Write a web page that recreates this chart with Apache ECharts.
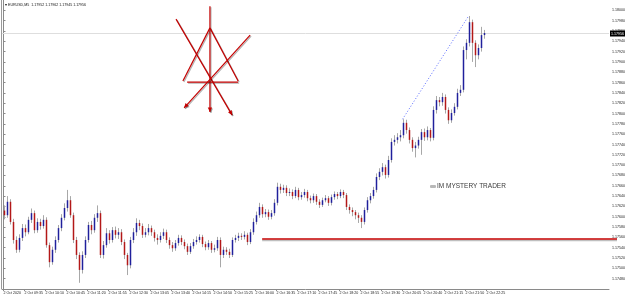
<!DOCTYPE html>
<html>
<head>
<meta charset="utf-8">
<script src="https://cdn.jsdelivr.net/npm/echarts@6/dist/echarts.min.js"></script>
<style>
  html, body { margin: 0; padding: 0; background: #fff; }
  #chart { width: 625px; height: 299px; }
</style>
</head>
<body>
<div id="chart"></div>
<script>
// EURUSD M5 candles: [open, close, low, high]
const candles = [
  [1.17612,1.17603,1.17595,1.17622],[1.17603,1.17629,1.17598,1.17640],[1.17629,1.17590,1.17585,1.17634],[1.17590,1.17555,1.17548,1.17596],
  [1.17555,1.17536,1.17530,1.17562],[1.17536,1.17559,1.17531,1.17566],[1.17559,1.17578,1.17553,1.17586],[1.17578,1.17570,1.17562,1.17585],
  [1.17570,1.17594,1.17566,1.17600],[1.17594,1.17607,1.17588,1.17616],[1.17607,1.17574,1.17568,1.17612],[1.17574,1.17590,1.17569,1.17597],
  [1.17590,1.17582,1.17575,1.17596],[1.17582,1.17594,1.17577,1.17603],[1.17594,1.17545,1.17540,1.17599],[1.17545,1.17512,1.17502,1.17550],
  [1.17512,1.17536,1.17507,1.17542],[1.17536,1.17555,1.17530,1.17562],[1.17555,1.17578,1.17550,1.17584],[1.17578,1.17598,1.17572,1.17605],
  [1.17598,1.17617,1.17593,1.17626],[1.17617,1.17632,1.17610,1.17652],[1.17632,1.17603,1.17598,1.17640],[1.17603,1.17555,1.17549,1.17608],
  [1.17555,1.17526,1.17518,1.17561],[1.17526,1.17497,1.17472,1.17531],[1.17497,1.17526,1.17490,1.17533],[1.17526,1.17555,1.17520,1.17562],
  [1.17555,1.17584,1.17550,1.17590],[1.17584,1.17574,1.17566,1.17592],[1.17574,1.17598,1.17569,1.17605],[1.17598,1.17607,1.17590,1.17622],
  [1.17607,1.17526,1.17520,1.17612],[1.17526,1.17545,1.17519,1.17553],[1.17545,1.17568,1.17540,1.17578],[1.17568,1.17555,1.17548,1.17574],
  [1.17555,1.17574,1.17550,1.17580],[1.17574,1.17565,1.17558,1.17581],[1.17565,1.17570,1.17557,1.17578],[1.17570,1.17551,1.17545,1.17576],
  [1.17551,1.17526,1.17518,1.17556],[1.17526,1.17506,1.17487,1.17530],[1.17506,1.17555,1.17500,1.17561],[1.17555,1.17570,1.17549,1.17578],
  [1.17570,1.17588,1.17563,1.17597],[1.17588,1.17582,1.17574,1.17594],[1.17582,1.17565,1.17559,1.17587],[1.17565,1.17570,1.17560,1.17578],
  [1.17570,1.17578,1.17564,1.17586],[1.17578,1.17570,1.17563,1.17583],[1.17570,1.17559,1.17552,1.17575],[1.17559,1.17555,1.17546,1.17566],
  [1.17555,1.17563,1.17550,1.17570],[1.17563,1.17570,1.17557,1.17577],[1.17570,1.17555,1.17549,1.17575],[1.17555,1.17545,1.17538,1.17560],
  [1.17545,1.17539,1.17532,1.17551],[1.17539,1.17549,1.17534,1.17555],[1.17549,1.17559,1.17544,1.17565],[1.17559,1.17551,1.17545,1.17564],
  [1.17551,1.17543,1.17537,1.17556],[1.17543,1.17532,1.17526,1.17548],[1.17532,1.17543,1.17528,1.17549],[1.17543,1.17551,1.17538,1.17557],
  [1.17551,1.17555,1.17546,1.17562],[1.17555,1.17561,1.17550,1.17566],[1.17561,1.17547,1.17541,1.17565],[1.17547,1.17541,1.17535,1.17552],
  [1.17541,1.17549,1.17536,1.17555],[1.17549,1.17536,1.17530,1.17553],[1.17536,1.17539,1.17531,1.17546],[1.17539,1.17555,1.17534,1.17561],
  [1.17555,1.17526,1.17502,1.17560],[1.17526,1.17536,1.17520,1.17542],[1.17536,1.17532,1.17526,1.17541],[1.17532,1.17526,1.17520,1.17538],
  [1.17526,1.17555,1.17522,1.17560],[1.17555,1.17559,1.17550,1.17565],[1.17559,1.17563,1.17553,1.17569],[1.17563,1.17561,1.17555,1.17568],
  [1.17561,1.17565,1.17556,1.17572],[1.17565,1.17551,1.17545,1.17569],[1.17551,1.17570,1.17547,1.17576],[1.17570,1.17590,1.17565,1.17597],
  [1.17590,1.17603,1.17585,1.17610],[1.17603,1.17619,1.17598,1.17627],[1.17619,1.17605,1.17598,1.17624],[1.17605,1.17609,1.17599,1.17615],
  [1.17609,1.17600,1.17594,1.17614],[1.17600,1.17607,1.17595,1.17613],[1.17607,1.17627,1.17602,1.17634],[1.17627,1.17658,1.17622,1.17666],
  [1.17658,1.17652,1.17645,1.17664],[1.17652,1.17656,1.17646,1.17662],[1.17656,1.17646,1.17640,1.17661],[1.17646,1.17648,1.17640,1.17655],
  [1.17648,1.17640,1.17634,1.17653],[1.17640,1.17652,1.17636,1.17658],[1.17652,1.17638,1.17632,1.17656],[1.17638,1.17642,1.17633,1.17648],
  [1.17642,1.17648,1.17637,1.17654],[1.17648,1.17636,1.17630,1.17652],[1.17636,1.17632,1.17626,1.17641],[1.17632,1.17640,1.17627,1.17645],
  [1.17640,1.17629,1.17623,1.17644],[1.17629,1.17623,1.17617,1.17634],[1.17623,1.17632,1.17619,1.17637],[1.17632,1.17636,1.17628,1.17642],
  [1.17636,1.17627,1.17621,1.17640],[1.17627,1.17638,1.17622,1.17643],[1.17638,1.17644,1.17633,1.17649],[1.17644,1.17640,1.17634,1.17648],
  [1.17640,1.17648,1.17636,1.17653],[1.17648,1.17642,1.17636,1.17652],[1.17642,1.17619,1.17613,1.17646],[1.17619,1.17613,1.17606,1.17624],
  [1.17613,1.17609,1.17601,1.17618],[1.17609,1.17603,1.17595,1.17613],[1.17603,1.17598,1.17588,1.17608],[1.17598,1.17590,1.17578,1.17603],
  [1.17590,1.17613,1.17585,1.17618],[1.17613,1.17632,1.17608,1.17638],[1.17632,1.17640,1.17626,1.17646],[1.17640,1.17652,1.17635,1.17658],
  [1.17652,1.17677,1.17647,1.17684],[1.17677,1.17687,1.17671,1.17694],[1.17687,1.17696,1.17680,1.17704],[1.17696,1.17681,1.17674,1.17701],
  [1.17681,1.17710,1.17676,1.17718],[1.17710,1.17745,1.17705,1.17752],[1.17745,1.17749,1.17738,1.17758],[1.17749,1.17754,1.17742,1.17762],
  [1.17754,1.17758,1.17746,1.17768],[1.17758,1.17782,1.17752,1.17789],[1.17782,1.17768,1.17761,1.17788],[1.17768,1.17749,1.17742,1.17773],
  [1.17749,1.17733,1.17726,1.17754],[1.17733,1.17738,1.17715,1.17745],[1.17738,1.17749,1.17732,1.17755],[1.17749,1.17764,1.17720,1.17770],
  [1.17764,1.17754,1.17747,1.17771],[1.17754,1.17768,1.17748,1.17775],[1.17768,1.17753,1.17746,1.17772],[1.17753,1.17807,1.17748,1.17814],
  [1.17807,1.17826,1.17800,1.17834],[1.17826,1.17822,1.17814,1.17832],[1.17822,1.17832,1.17815,1.17840],[1.17832,1.17807,1.17800,1.17837],
  [1.17807,1.17787,1.17780,1.17812],[1.17787,1.17801,1.17782,1.17808],[1.17801,1.17813,1.17796,1.17820],[1.17813,1.17840,1.17808,1.17848],
  [1.17840,1.17846,1.17834,1.17855],[1.17846,1.17923,1.17841,1.17930],[1.17923,1.17937,1.17905,1.17944],[1.17937,1.17977,1.17930,1.17989],
  [1.17977,1.17937,1.17900,1.17982],[1.17937,1.17913,1.17890,1.17942],[1.17913,1.17927,1.17905,1.17934],[1.17927,1.17952,1.17920,1.17968],
  [1.17952,1.17956,1.17945,1.17962]
];

// time labels, one every 7 bars (35 minutes)
const timeLabels = [
  "2 Oct 2020","2 Oct 09:35","2 Oct 10:10","2 Oct 10:45","2 Oct 11:20","2 Oct 11:55","2 Oct 12:30","2 Oct 13:05",
  "2 Oct 13:40","2 Oct 14:15","2 Oct 14:50","2 Oct 15:25","2 Oct 16:00","2 Oct 16:35","2 Oct 17:10","2 Oct 17:45",
  "2 Oct 18:20","2 Oct 18:55","2 Oct 19:30","2 Oct 20:05","2 Oct 20:40","2 Oct 21:15","2 Oct 21:50","2 Oct 22:25"
];
const labelStep = 7;

// hand-drawn objects on the chart: [barFrom, priceFrom, barTo, priceTo, arrow]
const redDrawing = [
  [68.8, 1.18008, 68.8, 1.17803, 1],
  [59.8, 1.17863, 68.8, 1.17966, 0],
  [68.8, 1.17966, 78.2, 1.17863, 0],
  [61.2, 1.17861, 78.2, 1.17861, 0],
  [57.5, 1.17983, 76.2, 1.17797, 1],
  [82.2, 1.17952, 60.2, 1.17811, 1]
];
const supportLine = [86.2, 1.17557, 201.8, 1.17557];
const trendLine = [133, 1.17789, 155, 1.17989];
const lastPrice = 1.17956;
const headerText = "EURUSD,M5  1.17952 1.17962 1.17945 1.17956";

const chart = echarts.init(document.getElementById("chart"), null, { renderer: "canvas" });

function renderCandle(params, api) {
  const i = api.value(0);
  const o = api.value(1), c = api.value(2), l = api.value(3), h = api.value(4);
  const x = Math.round(api.coord([i, o])[0]) + 0.5;
  const yo = api.coord([i, o])[1], yc = api.coord([i, c])[1];
  const yl = api.coord([i, l])[1], yh = api.coord([i, h])[1];
  const top = Math.min(yo, yc);
  const body = Math.max(Math.abs(yo - yc), 1);
  return {
    type: "group",
    children: [
      { type: "line", shape: { x1: x, y1: yh, x2: x, y2: yl }, style: { stroke: "#a8a8a8", lineWidth: 1 } },
      { type: "rect", shape: { x: x - 0.75, y: top, width: 1.5, height: body }, style: { fill: c >= o ? "#20209c" : "#b31818" } }
    ]
  };
}

function arrowHead(x1, y1, x2, y2, size) {
  const a = Math.atan2(y2 - y1, x2 - x1);
  return [
    [x2, y2],
    [x2 - size * Math.cos(a - 0.45), y2 - size * Math.sin(a - 0.45)],
    [x2 - size * Math.cos(a + 0.45), y2 - size * Math.sin(a + 0.45)]
  ];
}

function renderDrawing(params, api) {
  const p1 = api.coord([api.value(0), api.value(1)]);
  const p2 = api.coord([api.value(2), api.value(3)]);
  const shadow = { shadowColor: "rgba(0,0,0,0.3)", shadowOffsetX: 1, shadowOffsetY: 1, shadowBlur: 0 };
  const children = [
    { type: "line", shape: { x1: p1[0], y1: p1[1], x2: p2[0], y2: p2[1] }, style: { stroke: "#c40000", lineWidth: 1.2, ...shadow } }
  ];
  if (api.value(4)) {
    children.push({ type: "polygon", shape: { points: arrowHead(p1[0], p1[1], p2[0], p2[1], 5) }, style: { fill: "#c40000", ...shadow } });
  }
  return { type: "group", children };
}

// current price: light line across the plot and a black tag on the price axis
function renderPriceLine(params, api) {
  const cs = params.coordSys;
  const y = Math.round(api.coord([0, api.value(0)])[1]) + 0.5;
  const right = cs.x + cs.width;
  return {
    type: "group",
    children: [
      { type: "line", shape: { x1: cs.x, y1: y, x2: right, y2: y }, style: { stroke: "#dedede", lineWidth: 1 } },
      { type: "rect", shape: { x: right + 1, y: y - 3, width: 15, height: 6 }, style: { fill: "#000" } },
      { type: "text", x: right + 2, y: y, style: { text: api.value(0).toFixed(5), fill: "#fff", fontSize: 3.6, verticalAlign: "middle", fontFamily: "Liberation Sans" } }
    ]
  };
}

const option = {
  animation: false,
  backgroundColor: "#ffffff",
  textStyle: { fontFamily: "Liberation Sans, Arial, sans-serif" },
  grid: { left: 2, right: 16, top: 0, bottom: 10, outerBoundsMode: "none", containLabel: false },
  xAxis: {
    type: "value",
    min: -0.5,
    max: 201.8,
    axisLine: { show: true, lineStyle: { color: "#8a8a8a" } },
    axisTick: { show: true, length: 2, lineStyle: { color: "#8a8a8a" }, customValues: timeLabels.map((_, k) => k * labelStep) },
    axisLabel: {
      customValues: timeLabels.map((_, k) => k * labelStep),
      formatter: (v) => timeLabels[Math.round(v / labelStep)] || "",
      color: "#222",
      fontSize: 3.6,
      margin: 2,
      align: "left"
    },
    splitLine: { show: false }
  },
  yAxis: {
    type: "value",
    position: "right",
    min: 1.1746,
    max: 1.1802,
    interval: 0.0002,
    axisLine: { show: true, lineStyle: { color: "#8a8a8a" } },
    axisTick: { show: true, length: 2, lineStyle: { color: "#8a8a8a" } },
    axisLabel: { color: "#222", fontSize: 3.6, margin: 3, showMinLabel: false, showMaxLabel: false, formatter: (v) => v.toFixed(5) },
    splitLine: { show: false }
  },
  graphic: [
    { type: "line", shape: { x1: 1.5, y1: 0, x2: 1.5, y2: 289 }, style: { stroke: "#9a9a9a", lineWidth: 1 } },
    { type: "text", left: 5, top: 3, style: { text: "\u25BE " + headerText, fontSize: 3.6, fill: "#111", fontFamily: "Liberation Sans" } },
    { type: "rect", left: 430, top: 185, shape: { width: 6, height: 3, r: 1 }, style: { fill: "#b8b8b8" } },
    { type: "text", left: 437, top: 182.5, style: { text: "IM MYSTERY TRADER", fontSize: 6.5, fill: "#3a3a3a", fontFamily: "Liberation Sans" } }
  ],
  series: [
    {
      type: "custom",
      name: "price",
      renderItem: renderPriceLine,
      encode: { y: 0 },
      data: [[lastPrice]],
      clip: false,
      z: 1
    },
    {
      type: "custom",
      name: "EURUSD",
      renderItem: renderCandle,
      encode: { x: 0, y: [1, 2, 3, 4] },
      data: candles.map((r, i) => [i, ...r]),
      clip: true,
      z: 3
    },
    {
      type: "custom",
      name: "trend",
      renderItem: (params, api) => {
        const p1 = api.coord([api.value(0), api.value(1)]);
        const p2 = api.coord([api.value(2), api.value(3)]);
        return { type: "line", shape: { x1: p1[0], y1: p1[1], x2: p2[0], y2: p2[1] }, style: { stroke: "#5a6cff", lineWidth: 1, lineDash: [1, 2] } };
      },
      encode: { x: [0, 2], y: [1, 3] },
      data: [trendLine],
      z: 2
    },
    {
      type: "custom",
      name: "support",
      renderItem: (params, api) => {
        const p1 = api.coord([api.value(0), api.value(1)]);
        const p2 = api.coord([api.value(2), api.value(3)]);
        return {
          type: "line",
          shape: { x1: p1[0], y1: p1[1], x2: p2[0] + 8, y2: p2[1] },
          style: { stroke: "#c40000", lineWidth: 1.6, shadowColor: "rgba(0,0,0,0.25)", shadowOffsetY: 1.5, shadowBlur: 0 }
        };
      },
      encode: { x: [0, 2], y: [1, 3] },
      data: [supportLine],
      clip: false,
      z: 4
    },
    {
      type: "custom",
      name: "drawing",
      renderItem: renderDrawing,
      encode: { x: [0, 2], y: [1, 3] },
      data: redDrawing,
      z: 5
    }
  ]
};

chart.setOption(option);
</script>
</body>
</html>
